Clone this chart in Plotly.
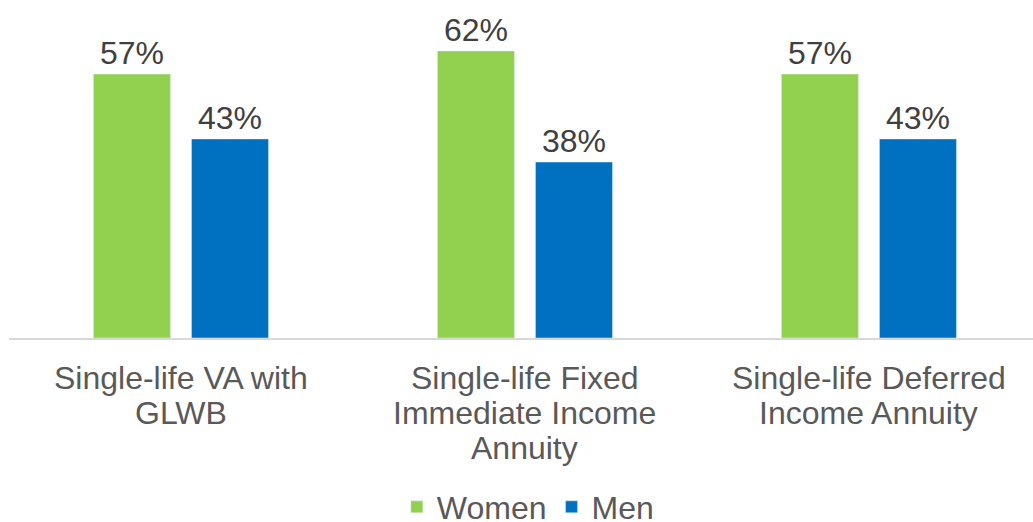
import plotly.graph_objects as go

categories = ["Single-life VA with<br>GLWB", "Single-life Fixed<br>Immediate Income<br>Annuity", "Single-life Deferred<br>Income Annuity"]
women = [57, 62, 57]
men = [43, 38, 43]

fig = go.Figure()
fig.add_trace(go.Bar(name="Women", x=categories, y=women, marker_color="#92D050",
                     text=[f"{v}%" for v in women], textposition="outside",
                     textfont=dict(size=32, color="#404040"), cliponaxis=False))
fig.add_trace(go.Bar(name="Men", x=categories, y=men, marker_color="#0070C0",
                     text=[f"{v}%" for v in men], textposition="outside",
                     textfont=dict(size=32, color="#404040"), cliponaxis=False))

# category labels, one annotation per line to mimic tighter line spacing
for cat in categories:
    for i, line in enumerate(cat.split("<br>")):
        fig.add_annotation(x=cat, y=0, xref="x", yref="y", text=line, showarrow=False,
                           yanchor="middle", yshift=-(40 + 35 * i),
                           font=dict(size=32, color="#595959"))

fig.update_layout(
    width=1033, height=522,
    margin=dict(l=9, r=0, t=0, b=184, autoexpand=False),
    barmode="group", bargap=0.43, bargroupgap=0.214,
    plot_bgcolor="white", paper_bgcolor="white",
    font=dict(family="Liberation Sans, Arial", color="#595959"),
    showlegend=True,
    legend=dict(orientation="h", x=0.511, xanchor="center", xref="container",
                y=(522 - 507) / 522, yanchor="middle", yref="container",
                font=dict(size=32, color="#595959")),
    yaxis=dict(range=[0, 73], visible=False),
    xaxis=dict(showline=True, linecolor="#D9D9D9", linewidth=2,
               showticklabels=False, automargin=False, range=[-0.5, 2.477]),
)
fig.write_html("out.html", config={"displayModeBar": False},
               post_script="document.body.style.margin='0';document.body.style.overflow='hidden';")
